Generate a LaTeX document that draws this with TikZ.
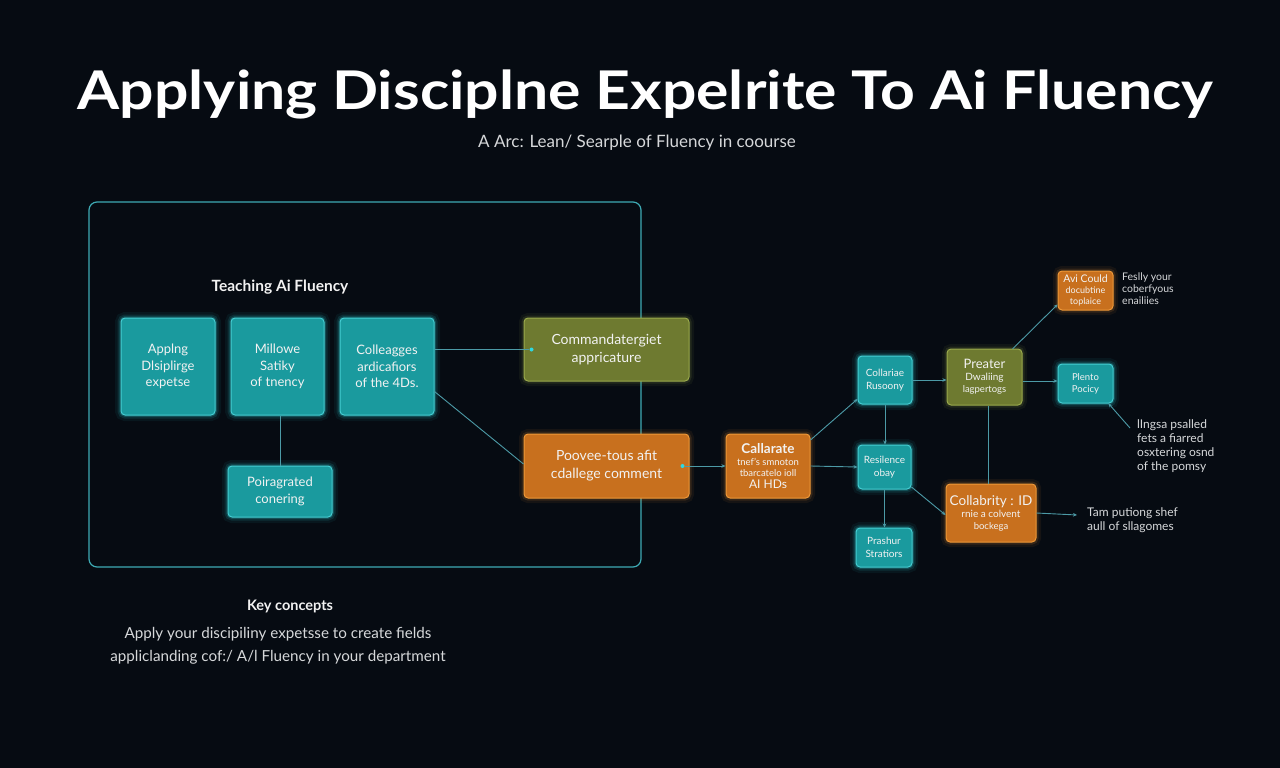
\documentclass[tikz,border=0pt]{standalone}
\usepackage{fontspec}
\setmainfont{Lato}
\usetikzlibrary{arrows.meta,calc}
\definecolor{bgc}{HTML}{060B12}
\definecolor{tealF}{HTML}{1A9A9E}
\definecolor{tealB}{HTML}{45CDD2}
\definecolor{tealG}{HTML}{2FD8E0}
\definecolor{oliveF}{HTML}{6E7A30}
\definecolor{oliveB}{HTML}{9AAA4C}
\definecolor{orangeF}{HTML}{C8701E}
\definecolor{orangeB}{HTML}{EE9838}
\definecolor{linec}{HTML}{4C9AA6}
\definecolor{framec}{HTML}{3EAAB4}
\definecolor{txtc}{HTML}{F2F2F2}
\definecolor{graytxt}{HTML}{D6D8DA}
\newcommand\fsz[2]{\fontsize{#1}{#2}\selectfont}
\tikzset{
  x=1pt,y=-1pt,
  basebox/.style={rounded corners=4pt, line width=1pt, text=txtc, align=center, inner sep=1pt},
  tealbox/.style={basebox, draw=tealB, fill=tealF,
    preaction={draw=tealG, line width=12pt, opacity=0.06},
    preaction={draw=tealG, line width=7pt, opacity=0.12},
    preaction={draw=tealG, line width=3.5pt, opacity=0.2}},
  olivebox/.style={basebox, draw=oliveB, fill=oliveF,
    preaction={draw=oliveB, line width=10pt, opacity=0.07},
    preaction={draw=oliveB, line width=5pt, opacity=0.14}},
  orangebox/.style={basebox, draw=orangeB, fill=orangeF,
    preaction={draw=orangeB, line width=10pt, opacity=0.07},
    preaction={draw=orangeB, line width=5pt, opacity=0.14}},
  conn/.style={draw=linec, line width=0.9pt},
  arr/.style={conn, -{Stealth[length=4pt,width=3.5pt]}},
  dotn/.style={circle, fill=tealG, inner sep=0pt, minimum size=4pt},
  sidetxt/.style={text=graytxt, align=left, inner sep=0pt},
  lt/.style={tealbox, font=\fsz{13}{16.5}},
  st/.style={tealbox, font=\fsz{10}{12.5}},
}
\begin{document}
\begin{tikzpicture}
\fill[bgc] (0,0) rectangle (1280,768);
\useasboundingbox (0,0) rectangle (1280,768);

% title
\node[anchor=base, text=white, inner sep=0pt] (title) at (645.5,110)
  {\scalebox{1}[0.88]{\resizebox{1135pt}{!}{\bfseries Applying Disciplne Expelrite To Ai Fluency}}};
\node[anchor=base, text=graytxt, inner sep=0pt, font=\fsz{17}{19}] (sub) at (637,147)
  {A Arc: Lean/ Searple of Fluency in coourse};

% frame
\draw[framec, line width=1.2pt, rounded corners=8pt] (89,202) rectangle (641,567);
\node[text=txtc, font=\bfseries\fsz{15.5}{18}] (teach) at (280,287) {Teaching Ai Fluency};

% left teal boxes
\node[lt, minimum width=94pt, minimum height=97pt] (b1) at (168,366.5) {Applng\\Dlsiplirge\\expetse};
\node[lt, minimum width=93pt, minimum height=97pt] (b2) at (277.5,366.5) {Millowe\\Satiky\\of tnency};
\node[lt, minimum width=94pt, minimum height=97pt] (b3) at (387,366.5) {Colleagges\\ardicafiors\\of the 4Ds.};
\node[lt, minimum width=104pt, minimum height=51pt] (b4) at (280,491.5) {Poiragrated\\conering};

% middle boxes
\node[olivebox, font=\fsz{14}{18}, minimum width=165pt, minimum height=63pt] (com) at (606.5,349.5) {Commandatergiet\\appricature};
\node[orangebox, font=\fsz{14}{18}, minimum width=165pt, minimum height=64pt] (pow) at (606.5,466) {Poovee-tous afit\\cdallege comment};

\node[orangebox, font=\fsz{9.5}{11.5}, minimum width=84pt, minimum height=64pt] (cal) at (768,466)
  {\bfseries\fsz{13.5}{16}Callarate\\\mdseries\fsz{9.5}{11.5}tnef's smnoton\\tbarcatelo ioll\\\fsz{12}{14}AI HDs};

\node[st, minimum width=54pt, minimum height=48pt] (top) at (885,380) {Collariae\\Rusoony};
\node[st, minimum width=53pt, minimum height=44pt] (res) at (884.5,467) {Resilence\\obay};
\node[st, minimum width=56pt, minimum height=39pt] (pra) at (884,547.5) {Prashur\\Stratiors};

\node[olivebox, font=\fsz{9.5}{12}, minimum width=75pt, minimum height=56pt] (pre) at (984.5,377)
  {\fsz{13}{15}Preater\\\fsz{10}{12}Dwaliing\\lagpertogs};
\node[orangebox, font=\fsz{9}{11}, minimum width=55pt, minimum height=39pt] (avi) at (1085.5,290.5)
  {\fsz{10.5}{11.5}Avi Could\\\fsz{9}{11}docubtine\\toplaice};
\node[tealbox, font=\fsz{9.5}{12}, minimum width=55pt, minimum height=39pt] (ple) at (1085.5,383.5) {Plento\\Pocicy};
\node[orangebox, font=\fsz{9.5}{12}, minimum width=90pt, minimum height=58pt] (col) at (991,513)
  {\fsz{13.5}{15}Collabrity : ID\\\fsz{10}{12}rnie a colvent\\bockega};

% side texts
\node[sidetxt, anchor=north west, font=\fsz{10.5}{12}] (t1) at (1122,273) {Feslly your\\coberfyous\\enailiies};
\node[sidetxt, anchor=north west, font=\fsz{12}{14}] (t2) at (1137,419) {lIngsa psalled\\fets a fiarred\\osxtering osnd\\of the pomsy};
\node[sidetxt, anchor=north west, font=\fsz{12}{14}] (t3) at (1087,507) {Tam putiong shef\\aull of sllagomes};
\coordinate (c3) at (1077,515);
\coordinate (c2) at (1130,428);

% connectors
\draw[conn] (b4.north) -- (b4.north |- b2.south);
\node[dotn] (d1) at ([xshift=8pt]com.west) {};
\draw[conn] (b3.east |- com.west) -- (d1);
\draw[conn] ([yshift=-25pt]b3.east) -- ([yshift=2pt]pow.west);
\node[dotn] (d2) at ([xshift=-7pt]pow.east) {};
\draw[arr] (d2) -- (cal.west);
\draw[arr] ([yshift=26pt]cal.east) -- ([yshift=-19pt]top.west);
\draw[arr] (cal.east) -- (res.west);
\draw[arr] (top.south) -- (top.south |- res.north);
\draw[arr] (res.south) -- (res.south |- pra.north);
\draw[arr] ([yshift=-20pt]res.east) -- ([yshift=-2pt]col.west);
\draw[arr] (top.east) -- (top.east -| pre.west);
\draw[arr] ([yshift=28pt, xshift=-10pt]pre.east) -- ([yshift=-14pt]avi.west);
\draw[arr] ([yshift=-4pt]pre.east) -- ([yshift=-4pt]pre.east -| ple.west);
\draw[conn] ([xshift=3.5pt]pre.south) -- ([xshift=3.5pt]pre.south |- col.north);
\draw[arr] (col.east) -- (c3);
\draw[arr] (c2) -- ([xshift=-5pt]ple.south east);

% key concepts
\node[text=txtc, font=\bfseries\fsz{14.5}{17}] (key) at (290,606) {Key concepts};
\node[text=graytxt, align=center, font=\fsz{15.2}{23}] (keyt) at (278,646)
  {Apply your discipiliny expetsse to create fields\\appliclanding cof:/ A/l Fluency in your department};
\end{tikzpicture}
\end{document}
